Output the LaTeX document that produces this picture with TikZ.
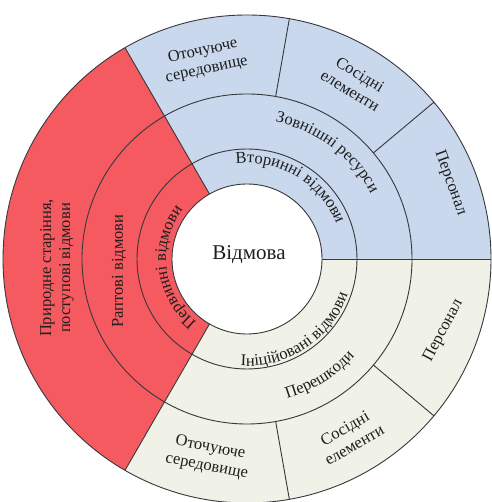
\documentclass[tikz,border=0pt]{standalone}
\usepackage{fontspec}
\setmainfont{Liberation Serif}
\newfontfamily\serifx{Liberation Serif}
\usetikzlibrary{decorations.text}
\definecolor{redf}{RGB}{245,90,96}
\definecolor{bluef}{RGB}{201,216,236}
\definecolor{beigef}{RGB}{240,241,231}
\definecolor{linec}{RGB}{55,55,60}
\definecolor{txtc}{RGB}{30,30,30}
\newcommand{\lblfont}{\serifx\fontsize{16.5}{19}\selectfont}
\begin{document}
\begin{tikzpicture}[x=1pt,y=1pt,
  ringline/.style={draw=linec, line width=0.9pt},
  lbl/.style={text=txtc, font=\lblfont, align=center, inner sep=0pt},
  curved/.style={decorate, decoration={text along path, text align=center, text color=txtc, text={|\lblfont|#1}}},
]
\useasboundingbox (-247,-243) rectangle (244,259);
\def\ri{75}\def\rii{110}\def\riii{165}\def\ro{244}
% sectors
\fill[bluef] (0:\ri) -- (0:\ro) arc[start angle=0,end angle=120,radius=\ro] -- (120:\ri) arc[start angle=120,end angle=0,radius=\ri] -- cycle;
\fill[redf] (120:\ri) -- (120:\ro) arc[start angle=120,end angle=240,radius=\ro] -- (240:\ri) arc[start angle=240,end angle=120,radius=\ri] -- cycle;
\fill[beigef] (240:\ri) -- (240:\ro) arc[start angle=240,end angle=360,radius=\ro] -- (0:\ri) arc[start angle=360,end angle=240,radius=\ri] -- cycle;
% rings
\draw[ringline, fill=white] (0,0) circle[radius=\ri];
\draw[ringline] (0,0) circle[radius=\rii];
\draw[ringline] (0,0) circle[radius=\riii];
\draw[ringline] (0,0) circle[radius=\ro];
% radial lines
\draw[ringline] (0:\ri) -- (0:\ro);
\draw[ringline] (120:\ri) -- (120:\ro);
\draw[ringline] (240:\ri) -- (240:\ro);
\draw[ringline] (40:\riii) -- (40:\ro);
\draw[ringline] (80:\riii) -- (80:\ro);
\draw[ringline] (280:\riii) -- (280:\ro);
\draw[ringline] (320:\riii) -- (320:\ro);
% centre
\node[text=txtc, font=\serifx\fontsize{21}{24}\selectfont, inner sep=0pt] (fail) at (2,4) {Відмова};
% curved labels
\path[curved={Вторинні відмови}] (149:96) arc[start angle=149,end angle=-31,radius=96];
\path[curved={Зовнішні ресурси}] (143:140) arc[start angle=143,end angle=-37,radius=140];
\path[curved={Первинні відмови}] (277:81) arc[start angle=277,end angle=97,radius=81];
\path[curved={Ініційовані відмови}] (213.5:107) arc[start angle=213.5,end angle=393.5,radius=107];
\path[curved={Перешкоди}] (212:145) arc[start angle=212,end angle=392,radius=145];
% straight labels
\node[lbl, rotate=90] (rapt) at (-128,-12) {Раптові відмови};
\node[lbl, rotate=90] (prir) at (-190,-9) {Природне старіння,\\поступові відмови};
\node[lbl, rotate=12] (envb) at (102:203) {Оточуюче\\середовище};
\node[lbl, rotate=-31.5] (neighb) at (58.5:207) {Сосідні\\елементи};
\node[lbl, rotate=-70] (persb) at (20.5:217) {Персонал};
\node[lbl, rotate=62] (perse) at (340:209) {Персонал};
\node[lbl, rotate=30] (neighe) at (300:205) {Сосідні\\елементи};
\node[lbl, rotate=-11] (enve) at (259:202) {Оточуюче\\середовище};
\end{tikzpicture}
\end{document}
